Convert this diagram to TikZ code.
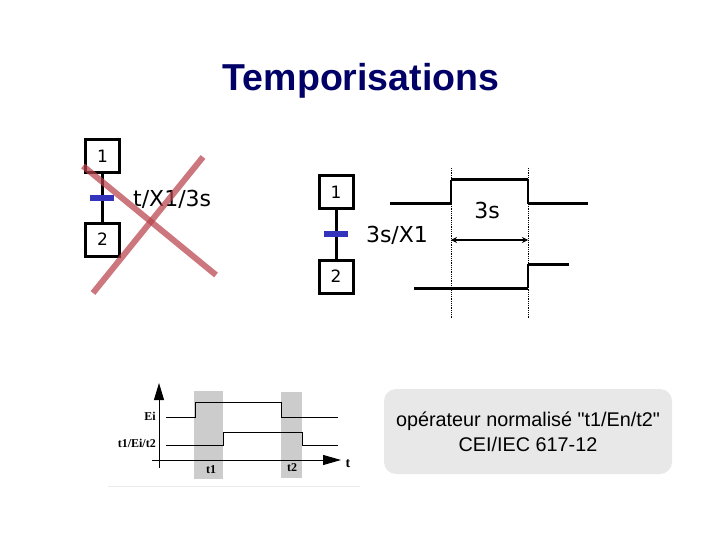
\documentclass[tikz,border=0pt]{standalone}
\usepackage{fontspec}
\setmainfont{Liberation Sans}
\newfontfamily\notefont{Liberation Sans}
\newfontfamily\tah{DejaVu Sans}
\newfontfamily\ser{Liberation Serif}
\usetikzlibrary{arrows.meta}
\definecolor{navy}{RGB}{0,0,102}
\definecolor{barblue}{RGB}{51,51,187}
\definecolor{crossred}{RGB}{185,65,75}
\definecolor{bubble}{RGB}{232,232,232}
\definecolor{shade}{RGB}{204,204,204}
\tikzset{
 x=1pt,y=-1pt,
 stepbox/.style={draw=black,line width=3pt,minimum width=34pt,minimum height=33pt,inner sep=0pt,font=\tah\fontsize{17}{20}\selectfont},
 link/.style={line width=3pt},
 bar/.style={fill=barblue,draw=none,minimum width=24pt,minimum height=6pt,inner sep=0pt},
 lab/.style={font=\tah\fontsize{22}{24}\selectfont,inner sep=0pt},
 crossline/.style={draw=crossred,line width=6pt,draw opacity=.72},
 sig/.style={line width=3pt},
 stem/.style={line width=1.5pt},
 guide/.style={line width=.8pt,densely dotted},
 thin sig/.style={line width=1pt},
 small/.style={font=\ser\bfseries\fontsize{12}{14}\selectfont,inner sep=0pt},
 band/.style={fill=shade,draw=none,inner sep=0pt,anchor=north west},
}
\begin{document}
\begin{tikzpicture}
\useasboundingbox (0,0) rectangle (720,540);
\node[font=\bfseries\fontsize{37.5}{42}\selectfont,text=navy,inner sep=0pt] (title) at (361,81) {Temporisations};
% left GRAFCET
\node[stepbox] (a1) at (102.5,156) {\raisebox{-4pt}{1}};
\node[stepbox] (a2) at (102.5,240) {\raisebox{1pt}{2}};
\draw[link] (a1) -- (a2);
\node[bar] (abar) at (102,198.5) {};
\node[lab,anchor=west] (alab) at (133,199) {t/X1/3s};
\coordinate (c1) at (83,166); \coordinate (c2) at (216,275);
\coordinate (c3) at (203,157); \coordinate (c4) at (93,293);
\draw[crossline] (c1) -- (c2);
\draw[crossline] (c3) -- (c4);
% right GRAFCET
\node[stepbox] (b1) at (336,192) {\raisebox{-4pt}{1}};
\node[stepbox] (b2) at (336,277) {\raisebox{2.5pt}{2}};
\draw[link] (b1) -- (b2);
\node[bar] (bbar) at (336,234) {};
\node[lab] (blab) at (397,235) {3s/X1};
% chronogram
\coordinate (g1) at (451,168); \coordinate (g2) at (451,319);
\coordinate (g3) at (528,168); \coordinate (g4) at (528,319);
\draw[guide] (g1) -- (g2);
\draw[guide] (g3) -- (g4);
\coordinate (s1) at (390,204); \coordinate (s2) at (451,204); \coordinate (s3) at (451,180);
\coordinate (s4) at (528,180); \coordinate (s5) at (528,204); \coordinate (s6) at (588,204);
\draw[sig] (s1) -- (s2);
\draw[stem] (s2) -- (s3);
\draw[sig] (s3) -- (s4);
\draw[stem] (s4) -- (s5);
\draw[sig] (s5) -- (s6);
\coordinate (r1) at (414,288); \coordinate (r2) at (528,288); \coordinate (r3) at (528,264); \coordinate (r4) at (569,264);
\draw[sig] (r1) -- (r2);
\draw[stem] (r2) -- (r3);
\draw[sig] (r3) -- (r4);
\coordinate (d1) at (451,240); \coordinate (d2) at (528,240);
\draw[line width=1.4pt,{Stealth[length=6pt,width=6pt]}-{Stealth[length=6pt,width=6pt]}] (d1) -- (d2);
\node[lab] (dlab) at (487,210) {3s};
% timing image
\coordinate (f1) at (108,486.5); \coordinate (f2) at (360,486.5);
\draw[line width=.8pt,black!8] (f1) -- (f2);
\node[band,minimum width=29pt,minimum height=88pt] (t1band) at (194,391) {};
\node[band,minimum width=21pt,minimum height=86pt] (t2band) at (281,392) {};
\coordinate (v1) at (159,468); \coordinate (v2) at (159,383);
\coordinate (h1) at (152,460); \coordinate (h2) at (341,460);
\draw[line width=.9pt,-{Triangle[length=17pt,width=10pt]}] (v1) -- (v2);
\draw[line width=.9pt,-{Triangle[length=18pt,width=10pt]}] (h1) -- (h2);
\coordinate (e1) at (166,417); \coordinate (e2) at (195,417); \coordinate (e3) at (195,402);
\coordinate (e4) at (281,402); \coordinate (e5) at (281,417); \coordinate (e6) at (338,417);
\draw[thin sig] (e1) -- (e2) -- (e3) -- (e4) -- (e5) -- (e6);
\coordinate (q1) at (166,445); \coordinate (q2) at (223,445); \coordinate (q3) at (223,432);
\coordinate (q4) at (302,432); \coordinate (q5) at (302,445); \coordinate (q6) at (338,445);
\draw[thin sig] (q1) -- (q2) -- (q3) -- (q4) -- (q5) -- (q6);
\node[small,anchor=east] (ei) at (156,416) {Ei};
\node[small,anchor=east] (te) at (156,443.5) {t1/Ei/t2};
\node[small] (t1l) at (211,469.5) {t1};
\node[small] (t2l) at (292,468) {t2};
\node[small,font=\ser\bfseries\fontsize{14}{14}\selectfont] (tl) at (348,463.5) {t};
% note
\node[fill=bubble,rounded corners=12pt,minimum width=288pt,minimum height=85pt,inner sep=0pt,align=center,font=\notefont\fontsize{19.8}{25}\selectfont] (note) at (528,431.5) {opérateur normalisé "t1/En/t2"\\CEI/IEC 617-12};
\end{tikzpicture}
\end{document}
